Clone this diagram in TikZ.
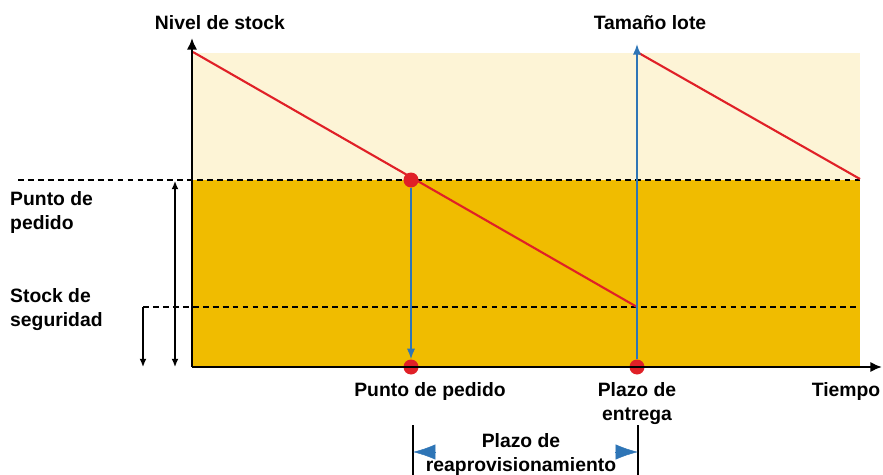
\documentclass[tikz,border=0pt]{standalone}
\usepackage{fontspec}
\setmainfont{Liberation Sans}
\usetikzlibrary{arrows.meta}
\definecolor{crema}{HTML}{FDF4D6}
\definecolor{oro}{HTML}{F0BC00}
\definecolor{rojo}{HTML}{E02027}
\definecolor{azul}{HTML}{2E75B6}
\begin{document}
\begin{tikzpicture}[x=0.03cm,y=-0.03cm,
    etiq/.style={font=\fontsize{16.5}{20.5}\selectfont\bfseries,inner sep=0pt},
    punto/.style={circle,fill=rojo,inner sep=0pt,minimum size=0.45cm},
    nivel/.style={dash pattern=on 5pt off 3.5pt,line width=1.2pt}]
            \useasboundingbox (0,0) rectangle (883,475);

            \fill[crema] (193,53) rectangle (860,180);
            \fill[oro] (193,180) rectangle (860,367);

            \draw[nivel] (18,180) -- (860,180);
            \draw[nivel] (143,307) -- (860,307);

            \coordinate (ini1) at (193,52);
            \coordinate (fin1) at (637,307);
            \coordinate (ini2) at (637,52);
            \coordinate (fin2) at (860,179);
            \draw[rojo,line width=1.8pt] (ini1) -- (fin1);
            \draw[rojo,line width=1.8pt] (ini2) -- (fin2);

            \node[punto] (pp) at (411,180) {};
            \node[punto] (pe) at (411,367) {};
            \node[punto] (pl) at (637,367) {};
            \coordinate (lote) at (637,44);
            \draw[azul,line width=1.4pt,-{Latex[length=9pt,width=7pt]}] (pp) -- (pe);
            \draw[azul,line width=1.4pt,-{Latex[length=9pt,width=7pt]}] (pl) -- (lote);

            % ejes
            \coordinate (O) at (192,367);
            \coordinate (ytop) at (192,38);
            \coordinate (xend) at (882,367);
            \draw[line width=2pt,-{Latex[length=10pt,width=9pt]}] (O) -- (ytop);
            \draw[line width=2pt,-{Latex[length=10pt,width=9pt]}] (O) -- (xend);

            % cotas a la izquierda
            \coordinate (a1) at (175,181);
            \coordinate (a2) at (175,367);
            \coordinate (b1) at (143,307);
            \coordinate (b2) at (143,367);
            \draw[line width=1.2pt,{Latex[length=7pt,width=6pt]}-{Latex[length=7pt,width=6pt]}] (a1) -- (a2);
            \draw[line width=1.2pt,-{Latex[length=7pt,width=6pt]}] (b1) -- (b2);

            % plazo de reaprovisionamiento
            \coordinate (c1) at (413,425);
            \coordinate (c2) at (413,475);
            \coordinate (d1) at (638,425);
            \coordinate (d2) at (638,475);
            \draw[line width=1.1pt] (c1) -- (c2);
            \draw[line width=1.1pt] (d1) -- (d2);
            \coordinate (f1) at (436,452);
            \coordinate (f2) at (413,452);
            \coordinate (g1) at (615,452);
            \coordinate (g2) at (638,452);
            \draw[azul,-{Latex[length=19pt,width=13pt]}] (f1) -- (f2);
            \draw[azul,-{Latex[length=19pt,width=13pt]}] (g1) -- (g2);

            \node[etiq,anchor=base] (tnivel) at (220,29) {Nivel de stock};
            \node[etiq,anchor=base] (tlote) at (650,29) {Tamaño lote};
            \node[etiq,anchor=north west,align=left] (tpunto) at (10,191) {Punto de\\pedido};
            \node[etiq,anchor=north west,align=left] (tstock) at (10,288) {Stock de\\seguridad};
            \node[etiq,anchor=base] (tpedido) at (430,396) {Punto de pedido};
            \node[etiq,anchor=north,align=center] (tentrega) at (637,382) {Plazo de\\entrega};
            \node[etiq,anchor=base] (ttiempo) at (846,396) {Tiempo};
            \node[etiq,anchor=north,align=center] (treap) at (521,433) {Plazo de\\reaprovisionamiento};
        \end{tikzpicture}
\end{document}
